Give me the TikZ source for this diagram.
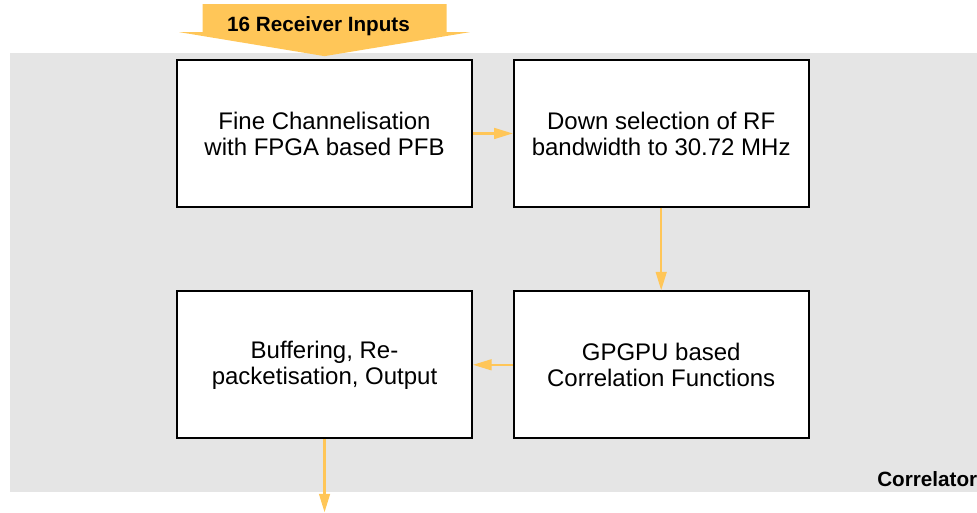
\documentclass[tikz,border=0pt]{standalone}
\usepackage{fontspec}
\setmainfont{Liberation Sans}
\usetikzlibrary{positioning, arrows.meta}
\definecolor{feed}{HTML}{FFC658}
\definecolor{panel}{HTML}{E5E5E5}

\begin{document}
\begin{tikzpicture}[
  stage/.style={
    rectangle, draw=black, line width=1.5pt,
    fill=white,
    minimum width=221pt, minimum height=110pt,
    align=center,
    font=\fontsize{18}{19.5}\selectfont,
  },
  flow/.style={-{Triangle[length=14pt,width=8pt]}, line width=1.8pt, draw=feed},
  tag/.style={font=\bfseries\fontsize{15.5}{16}\selectfont, inner sep=0pt},
  node distance=62pt and 30pt,
]
\useasboundingbox (0,0) rectangle (732.75pt,-384.75pt);
% shaded correlator panel
\fill[panel] (7.5pt,-39.75pt) rectangle (745pt,-369pt);

\node[stage] (chan) at (243.4pt,-100.1pt) {Fine Channelisation\\with FPGA based PFB};
\node[stage, right=of chan] (select) {Down selection of RF\\bandwidth to 30.72 MHz};
\node[stage, below=of select] (gpu) {GPGPU based\\Correlation Functions};
\node[stage, below=of chan] (buffer) {Buffering, Re-\\packetisation, Output};

% fat input arrow on top
\fill[feed] ([yshift=2.25pt]chan.north) -- ++(-109pt,18pt) -- ++(17.5pt,0)
  -- ++(0,21pt) -- ++(183pt,0) -- ++(0,-21pt) -- ++(17.5pt,0) -- cycle;
\node[tag] (inputs) at ([xshift=-4.5pt,yshift=25pt]chan.north) {16 Receiver Inputs};

\draw[flow] (chan) -- (select);
\draw[flow] (select) -- (gpu);
\draw[flow] (gpu) -- (buffer);
\coordinate[below=55pt of buffer.south] (out);
\draw[flow] (buffer) -- (out);

\node[tag, anchor=base west] (corrname) at (657.75pt,-364.5pt) {Correlator};
\end{tikzpicture}
\end{document}
